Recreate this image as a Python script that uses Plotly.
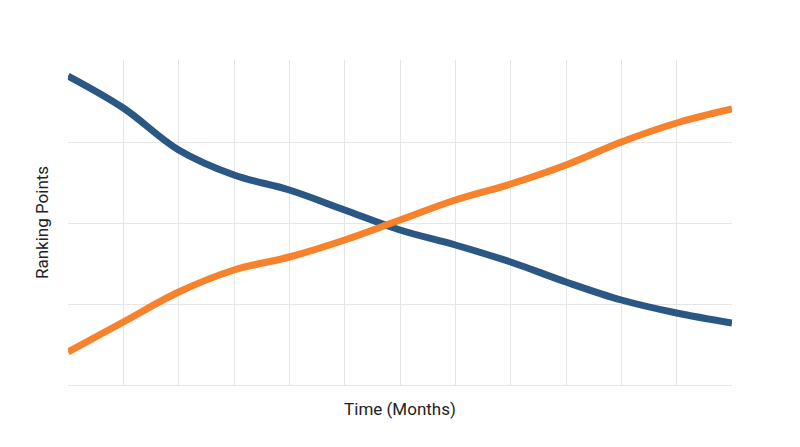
import plotly.graph_objects as go

months = list(range(13))
blue = [309, 277, 235, 210, 195, 175, 155, 140, 123, 103, 85, 72, 62]
orange = [33, 63, 93, 115, 128, 145, 165, 185, 201, 220, 243, 262, 276]

fig = go.Figure()
fig.add_trace(go.Scatter(x=months, y=blue, mode="lines", line=dict(color="#2a5783", width=7, shape="spline")))
fig.add_trace(go.Scatter(x=months, y=orange, mode="lines", line=dict(color="#f8812b", width=7, shape="spline")))
fig.update_layout(
    width=800, height=447, showlegend=False,
    plot_bgcolor="white", paper_bgcolor="white",
    margin=dict(l=60, r=76, t=52, b=70),
    font=dict(family="Roboto", size=14, color="#222"),
    xaxis=dict(title=dict(text="Time (Months)", standoff=18), range=[0, 12], dtick=1,
               showticklabels=False, showgrid=True, gridcolor="#e6e6e6", zeroline=False,
               showline=True, linecolor="#e6e6e6"),
    yaxis=dict(title=dict(text="Ranking Points", standoff=14), range=[0, 325], dtick=81,
               showticklabels=False, showgrid=True, gridcolor="#e6e6e6", zeroline=False),
)
fig.write_html("out.html")
